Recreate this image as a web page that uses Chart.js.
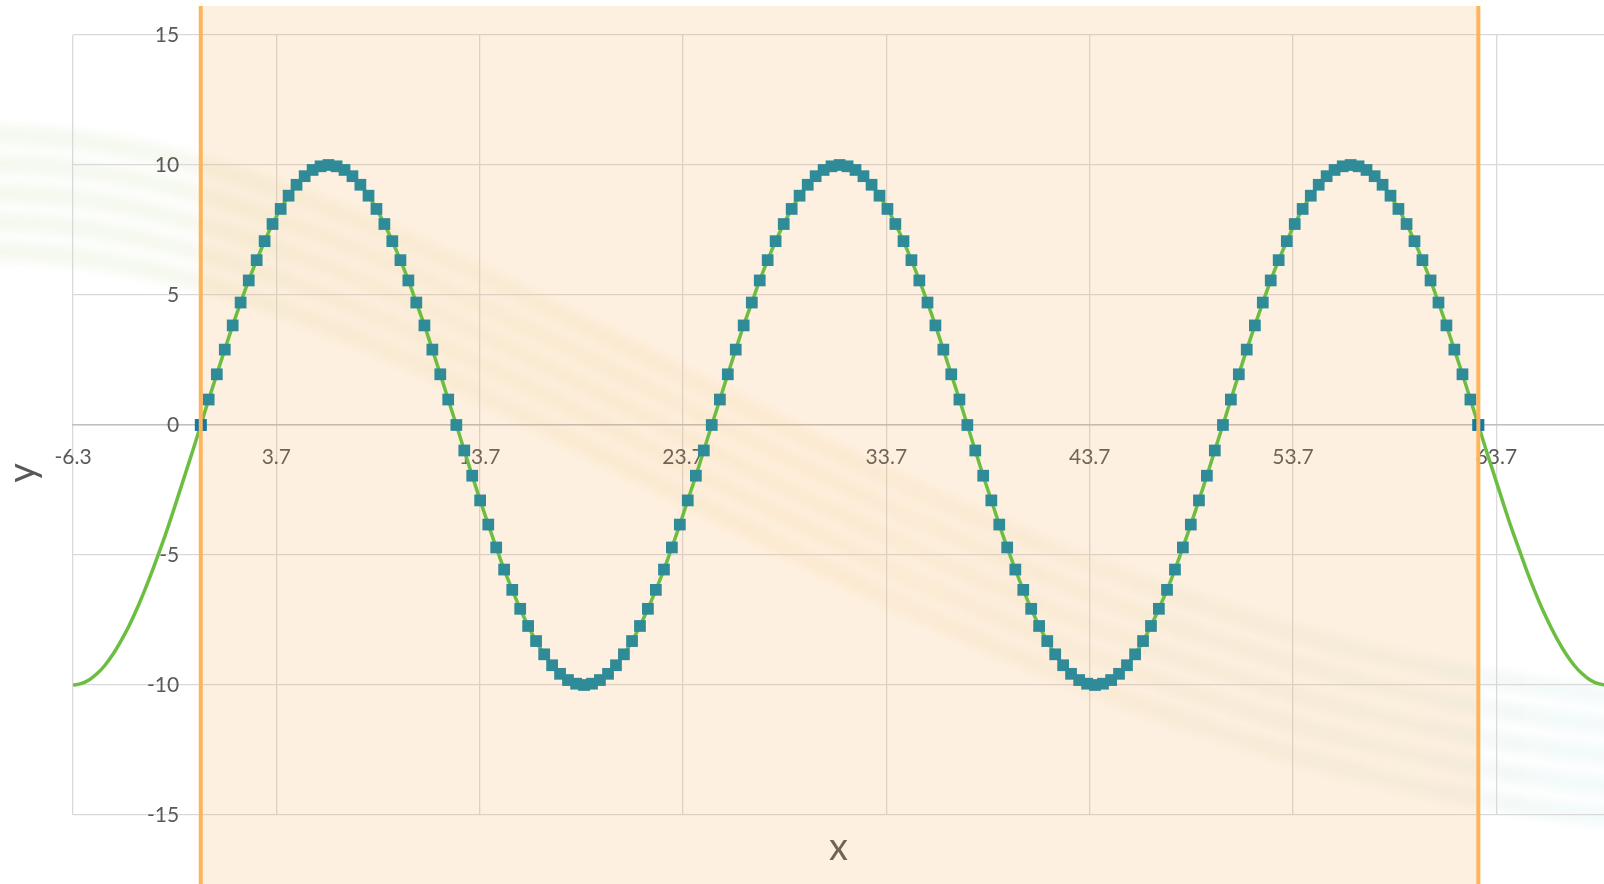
<!DOCTYPE html>
<html>
<head>
<meta charset="utf-8">
<title>y = 10 sin(x/4)</title>
<script src="https://cdn.jsdelivr.net/npm/chart.js@4.4.1/dist/chart.umd.min.js"></script>
<style>
  html, body { margin: 0; padding: 0; background: #ffffff; overflow: hidden; }
  #wrap { position: relative; width: 1604px; height: 884px; }
</style>
</head>
<body>
<div id="wrap"><canvas id="chart"></canvas></div>
<script>
// Sampled points of the wave (step of about 0.39 in x)
const sampleX = [
  0, 0.39, 0.79, 1.18, 1.57, 1.96, 2.36, 2.75, 3.14, 3.53, 3.93, 4.32, 4.71, 5.11, 5.50, 5.89,
  6.28, 6.68, 7.07, 7.46, 7.85, 8.25, 8.64, 9.03, 9.42, 9.82, 10.21, 10.60, 11.00, 11.39, 11.78, 12.17,
  12.57, 12.96, 13.35, 13.74, 14.14, 14.53, 14.92, 15.32, 15.71, 16.10, 16.49, 16.89, 17.28, 17.67, 18.06, 18.46,
  18.85, 19.24, 19.63, 20.03, 20.42, 20.81, 21.21, 21.60, 21.99, 22.38, 22.78, 23.17, 23.56, 23.95, 24.35, 24.74,
  25.13, 25.53, 25.92, 26.31, 26.70, 27.10, 27.49, 27.88, 28.27, 28.67, 29.06, 29.45, 29.85, 30.24, 30.63, 31.02,
  31.42, 31.81, 32.20, 32.59, 32.99, 33.38, 33.77, 34.16, 34.56, 34.95, 35.34, 35.74, 36.13, 36.52, 36.91, 37.31,
  37.70, 38.09, 38.48, 38.88, 39.27, 39.66, 40.06, 40.45, 40.84, 41.23, 41.63, 42.02, 42.41, 42.80, 43.20, 43.59,
  43.98, 44.37, 44.77, 45.16, 45.55, 45.95, 46.34, 46.73, 47.12, 47.52, 47.91, 48.30, 48.69, 49.09, 49.48, 49.87,
  50.27, 50.66, 51.05, 51.44, 51.84, 52.23, 52.62, 53.01, 53.41, 53.80, 54.19, 54.59, 54.98, 55.37, 55.76, 56.16,
  56.55, 56.94, 57.33, 57.73, 58.12, 58.51, 58.90, 59.30, 59.69, 60.08, 60.48, 60.87, 61.26, 61.65, 62.05, 62.44,
  62.83
];
const sampleY = [
  0, 0.98, 1.95, 2.90, 3.83, 4.71, 5.56, 6.34, 7.07, 7.73, 8.31, 8.82, 9.24, 9.57, 9.81, 9.95,
  10, 9.95, 9.81, 9.57, 9.24, 8.82, 8.31, 7.73, 7.07, 6.34, 5.56, 4.71, 3.83, 2.90, 1.95, 0.98,
  0, -0.98, -1.95, -2.90, -3.83, -4.71, -5.56, -6.34, -7.07, -7.73, -8.31, -8.82, -9.24, -9.57, -9.81, -9.95,
  -10, -9.95, -9.81, -9.57, -9.24, -8.82, -8.31, -7.73, -7.07, -6.34, -5.56, -4.71, -3.83, -2.90, -1.95, -0.98,
  0, 0.98, 1.95, 2.90, 3.83, 4.71, 5.56, 6.34, 7.07, 7.73, 8.31, 8.82, 9.24, 9.57, 9.81, 9.95,
  10, 9.95, 9.81, 9.57, 9.24, 8.82, 8.31, 7.73, 7.07, 6.34, 5.56, 4.71, 3.83, 2.90, 1.95, 0.98,
  0, -0.98, -1.95, -2.90, -3.83, -4.71, -5.56, -6.34, -7.07, -7.73, -8.31, -8.82, -9.24, -9.57, -9.81, -9.95,
  -10, -9.95, -9.81, -9.57, -9.24, -8.82, -8.31, -7.73, -7.07, -6.34, -5.56, -4.71, -3.83, -2.90, -1.95, -0.98,
  0, 0.98, 1.95, 2.90, 3.83, 4.71, 5.56, 6.34, 7.07, 7.73, 8.31, 8.82, 9.24, 9.57, 9.81, 9.95,
  10, 9.95, 9.81, 9.57, 9.24, 8.82, 8.31, 7.73, 7.07, 6.34, 5.56, 4.71, 3.83, 2.90, 1.95, 0.98,
  0
];

// Curve continues past the sampled range on both sides
const leftTailX  = [-6.28, -5.89, -5.50, -5.11, -4.71, -4.32, -3.93, -3.53, -3.14, -2.75, -2.36, -1.96, -1.57, -1.18, -0.79, -0.39];
const leftTailY  = [-10, -9.95, -9.81, -9.57, -9.24, -8.82, -8.31, -7.73, -7.07, -6.34, -5.56, -4.71, -3.83, -2.90, -1.95, -0.98];
const rightTailX = [63.22, 63.62, 64.01, 64.40, 64.80, 65.19, 65.58, 65.97, 66.37, 66.76, 67.15, 67.54, 67.94, 68.33, 68.72, 69.12];
const rightTailY = [-0.98, -1.95, -2.90, -3.83, -4.71, -5.56, -6.34, -7.07, -7.73, -8.31, -8.82, -9.24, -9.57, -9.81, -9.95, -10];

// End points of the highlighted interval
const edgeX = [0, 62.83];
const edgeY = [0, 0];
const bandRange = [0, 62.83];

// Axis settings
const xMin = -6.283, xMax = 69.01;
const xTickValues = [-6.283, 3.717, 13.717, 23.717, 33.717, 43.717, 53.717, 63.717];
const xTickLabels = ['-6.3', '3.7', '13.7', '23.7', '33.7', '43.7', '53.7', '63.7'];
const yMin = -15, yMax = 15, yStep = 5;
const xTitle = 'x', yTitle = 'y';

const toPoints = (xs, ys) => xs.map((x, i) => ({ x: x, y: ys[i] }));
const curvePoints = toPoints(leftTailX, leftTailY)
  .concat(toPoints(sampleX, sampleY))
  .concat(toPoints(rightTailX, rightTailY));

const FONT = 'Lato';
const TEXT = '#595959';

// keep the axes from taking any room around the plot area
const noRoom = s => {
  if (s.isHorizontal()) s.height = 0; else s.width = 0;
  s.paddingLeft = 0; s.paddingRight = 0; s.paddingTop = 0; s.paddingBottom = 0;
};

const decor = {
  id: 'decor',
  beforeDraw(chart) {
    // faint sweeping ribbons behind the plot
    const ctx = chart.ctx, W = chart.width;
    ctx.save();
    const g = ctx.createLinearGradient(0, 0, W, 0);
    g.addColorStop(0, 'rgba(160,200,120,0.11)');
    g.addColorStop(0.5, 'rgba(240,195,100,0.11)');
    g.addColorStop(1, 'rgba(130,200,200,0.09)');
    ctx.strokeStyle = g;
    ctx.lineWidth = 20;
    ctx.filter = 'blur(4px)';
    for (let i = 0; i < 5; i++) {
      const o = i * 29;
      ctx.beginPath();
      ctx.moveTo(-30, 135 + o);
      ctx.bezierCurveTo(450, 122 + o, 900, 640 + o * 1.05, 1660, 700 + o * 1.05);
      ctx.stroke();
    }
    ctx.restore();
  },
  beforeDatasetsDraw(chart) {
    const ctx = chart.ctx, area = chart.chartArea, xs = chart.scales.x;
    ctx.save();
    // axis titles
    ctx.fillStyle = TEXT;
    ctx.font = '38px ' + FONT;
    ctx.textAlign = 'center';
    ctx.textBaseline = 'alphabetic';
    ctx.fillText(xTitle, (area.left + area.right) / 2, 860);
    ctx.translate(35, 473);
    ctx.rotate(-Math.PI / 2);
    ctx.fillText(yTitle, 0, 0);
    ctx.restore();
    // highlighted interval
    const x0 = xs.getPixelForValue(bandRange[0]);
    const x1 = xs.getPixelForValue(bandRange[1]);
    ctx.save();
    ctx.fillStyle = 'rgba(250,160,60,0.16)';
    ctx.fillRect(x0, 6, x1 - x0, chart.height - 6);
    ctx.restore();
  },
  afterDatasetsDraw(chart) {
    const ctx = chart.ctx, xs = chart.scales.x;
    ctx.save();
    ctx.strokeStyle = '#FDB45A';
    ctx.lineWidth = 4;
    bandRange.forEach(v => {
      const px = xs.getPixelForValue(v);
      ctx.beginPath();
      ctx.moveTo(px, 6);
      ctx.lineTo(px, chart.height);
      ctx.stroke();
    });
    ctx.restore();
  }
};

new Chart(document.getElementById('chart'), {
  type: 'scatter',
  data: {
    datasets: [
      {
        label: 'curve',
        data: curvePoints,
        showLine: true,
        borderColor: '#6CBE40',
        borderWidth: 3.5,
        pointRadius: 0,
        cubicInterpolationMode: 'monotone',
        order: 3
      },
      {
        label: 'samples',
        data: toPoints(sampleX, sampleY),
        pointStyle: 'rect',
        pointRadius: 8.3,
        backgroundColor: '#2F8B97',
        borderWidth: 0,
        order: 2
      },
      {
        label: 'edges',
        data: toPoints(edgeX, edgeY),
        pointStyle: 'rect',
        pointRadius: 8.3,
        backgroundColor: '#1679A5',
        borderWidth: 0,
        order: 1
      }
    ]
  },
  options: {
    responsive: true,
    maintainAspectRatio: false,
    animation: false,
    events: [],
    layout: { autoPadding: false, padding: { left: 73, top: 35, right: 0, bottom: 69 } },
    plugins: { legend: { display: false }, tooltip: { enabled: false } },
    scales: {
      x: {
        type: 'linear',
        position: { y: 0 },
        min: xMin,
        max: xMax,
        afterBuildTicks: s => { s.ticks = xTickValues.map(v => ({ value: v })); },
        afterFit: noRoom,
        grid: { color: '#D9D9D9', lineWidth: 1.3, drawTicks: false },
        border: { display: true, color: '#BFBFBF', width: 1.5 },
        ticks: {
          autoSkip: false,
          maxRotation: 0,
          padding: 19.5,
          color: TEXT,
          font: { family: FONT, size: 21 },
          callback: (v, i) => xTickLabels[i]
        }
      },
      y: {
        type: 'linear',
        position: 'left',
        min: yMin,
        max: yMax,
        afterFit: noRoom,
        grid: { color: '#D9D9D9', lineWidth: 1.3, drawTicks: false },
        border: { display: false },
        ticks: {
          stepSize: yStep,
          mirror: true,
          crossAlign: 'far',
          padding: 74,
          color: TEXT,
          font: { family: FONT, size: 21 }
        }
      }
    }
  },
  plugins: [decor]
});
</script>
</body>
</html>
